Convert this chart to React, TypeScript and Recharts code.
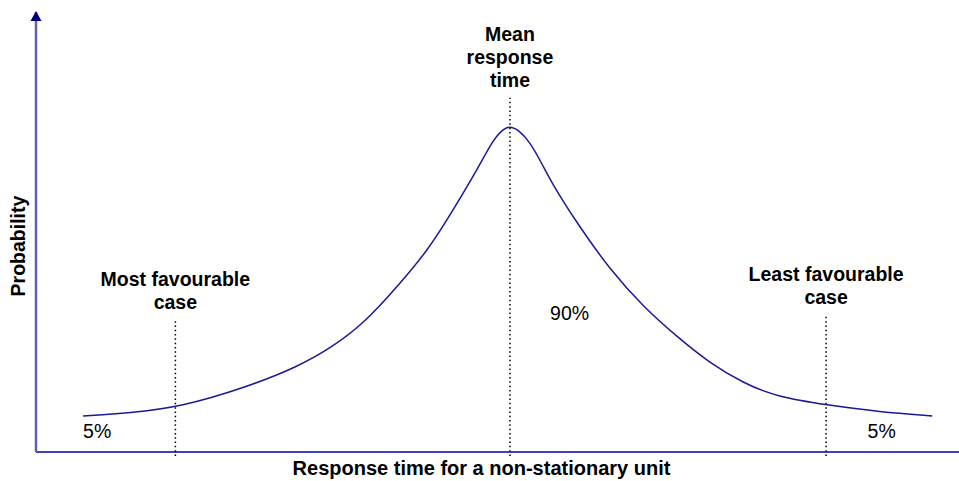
import React from "react";
import {
  LineChart,
  Line,
  XAxis,
  YAxis,
  ReferenceLine,
  ReferenceDot,
} from "recharts";

// Curve: x = response time (0..100), y = probability (0..100)
const curveX = [
  5.1, 10.2, 15.6, 22.9, 28.3, 32.2, 35.9, 39.1, 42.5, 45.2, 47.9, 49.5, 50.6,
  51.35, 52.4, 53.5, 54.9, 55.7, 58.6, 62.2, 65.8, 69.5, 73.0, 76.6, 80.3,
  85.7, 91.4, 97.1,
];
const curveY = [
  8.2, 8.9, 10.2, 14.8, 19.3, 23.9, 30.0, 37.5, 45.9, 55.0, 64.5, 70.9, 73.4,
  74.1, 73.0, 70.5, 65.2, 61.8, 52.0, 41.4, 33.0, 26.1, 20.2, 15.7, 12.5,
  10.7, 9.1, 8.2,
];

// Dotted markers: most favourable, mean, least favourable
const markerX = [15.1, 51.35, 85.6];
const markerTop = [30.0, 80.5, 31.1];
const markerBottom = -0.9;
const markerLabels = [
  ["Most favourable", "case"],
  ["Mean", "response", "time"],
  ["Least favourable", "case"],
];

// Share labels
const shareText = ["5%", "90%", "5%"];
const shareX = [5.1, 55.7, 90.1];
const shareY = [3.2, 30.0, 3.2];

const xTitle = "Response time for a non-stationary unit";
const yTitle = "Probability";

const data = curveX.map((x, i) => ({ x, y: curveY[i] }));

const FONT = "'Liberation Sans', Arial, sans-serif";
const NAVY = "#1a1a96";

const StackedLabel = (lines: string[]) => (props: any) => {
  const { cx = 0, cy = 0 } = props;
  const n = lines.length;
  return (
    <g>
      {lines.map((t, i) => (
        <text
          key={i}
          x={cx}
          y={cy - 11 - (n - 1 - i) * 23}
          textAnchor="middle"
          fontFamily={FONT}
          fontWeight="bold"
          fontSize={19.5}
          fill="#000"
        >
          {t}
        </text>
      ))}
    </g>
  );
};

const ShareLabel = (t: string) => (props: any) => {
  const { cx = 0, cy = 0 } = props;
  return (
    <text x={cx} y={cy} fontFamily={FONT} fontSize={19.5} fill="#000">
      {t}
    </text>
  );
};

// Arrow head on top of the y axis
const ArrowHead = (props: any) => {
  const { cx = 0, cy = 0 } = props;
  return (
    <polygon
      points={`${cx},${cy - 1} ${cx - 5.5},${cy + 9} ${cx + 5.5},${cy + 9}`}
      fill="#000080"
    />
  );
};

export default function App() {
  return (
    <div style={{ position: "absolute", left: 0, top: 0, background: "#fff" }}>
      <LineChart
        width={959}
        height={481}
        data={data}
        margin={{ top: 12, right: 0, left: 0, bottom: 0 }}
      >
        <XAxis
          type="number"
          dataKey="x"
          domain={[0, 100]}
          allowDataOverflow
          height={29}
          tick={false}
          tickLine={false}
          axisLine={{ stroke: "#0000a0", strokeWidth: 1.5 }}
          label={{
            content: (p: any) => {
              const vb = p.viewBox || { x: 36, y: 452 };
              return (
                <text
                  x={vb.x + 445.5}
                  y={vb.y + 23}
                  textAnchor="middle"
                  fontFamily={FONT}
                  fontWeight="bold"
                  fontSize={20}
                  fill="#000"
                >
                  {xTitle}
                </text>
              );
            },
          }}
        />
        <YAxis
          type="number"
          dataKey="y"
          domain={[0, 100]}
          allowDataOverflow
          width={36}
          tick={false}
          tickLine={false}
          axisLine={{ stroke: "#6262b0", strokeWidth: 2.5 }}
          label={{
            content: (p: any) => {
              const vb = p.viewBox || { x: 0, y: 12, width: 36 };
              const x = vb.x + vb.width - 11;
              const y = 246;
              return (
                <text
                  x={x}
                  y={y}
                  transform={`rotate(-90, ${x}, ${y})`}
                  textAnchor="middle"
                  fontFamily={FONT}
                  fontWeight="bold"
                  fontSize={19.5}
                  fill="#000"
                >
                  {yTitle}
                </text>
              );
            },
          }}
        />
        {markerX.map((mx, i) => (
          <ReferenceLine
            key={`m-${i}`}
            segment={[
              { x: mx, y: markerBottom },
              { x: mx, y: markerTop[i] },
            ]}
            stroke="#000"
            strokeWidth={1.5}
            strokeDasharray="1.5 2.8"
            ifOverflow="visible"
          />
        ))}
        <Line
          type="basis"
          dataKey="y"
          stroke={NAVY}
          strokeWidth={1.5}
          dot={false}
          isAnimationActive={false}
        />
        {markerX.map((mx, i) => (
          <ReferenceDot
            key={`ml-${i}`}
            x={mx}
            y={markerTop[i]}
            r={0}
            ifOverflow="visible"
            shape={StackedLabel(markerLabels[i])}
          />
        ))}
        {shareText.map((t, i) => (
          <ReferenceDot
            key={`s-${i}`}
            x={shareX[i]}
            y={shareY[i]}
            r={0}
            ifOverflow="visible"
            shape={ShareLabel(t)}
          />
        ))}
        <ReferenceDot
          x={0}
          y={100}
          r={0}
          ifOverflow="visible"
          shape={ArrowHead}
        />
      </LineChart>
    </div>
  );
}
